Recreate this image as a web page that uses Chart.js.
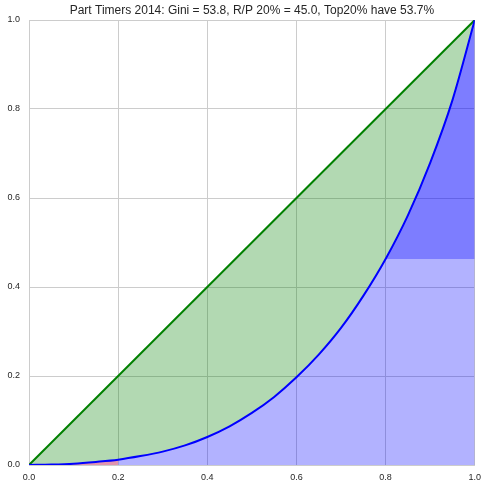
<!DOCTYPE html>
<html>
<head>
<meta charset="utf-8">
<script src="https://cdn.jsdelivr.net/npm/chart.js@4.4.1/dist/chart.umd.min.js"></script>
<style>
  html, body { margin: 0; padding: 0; background: #fff; }
  #wrap { width: 488px; height: 489px; }
</style>
</head>
<body>
<div id="wrap"><canvas id="lorenz"></canvas></div>
<script>
  // cumulative population share and income share
  const popShare = [0, 0.05, 0.1, 0.15, 0.2, 0.25, 0.3, 0.35, 0.4, 0.45, 0.5, 0.55, 0.6, 0.65, 0.7, 0.75, 0.8, 0.85, 0.9, 0.95, 1.0];
  const incomeShare = [0, 0.001, 0.003, 0.007, 0.012, 0.02, 0.03, 0.044, 0.063, 0.087, 0.117, 0.153, 0.197, 0.248, 0.308, 0.38, 0.463, 0.561, 0.679, 0.82, 1.0];
  const equalityX = [0, 1];
  const equalityY = [0, 1];
  const tickValues = [0, 0.2, 0.4, 0.6, 0.8, 1.0];
  const bottomCut = 0.2;   // bottom 20%
  const topCut = 0.8;      // top 20% starts here
  const topLevel = 0.463;  // income share held below the top 20%
  const chartTitle = 'Part Timers 2014: Gini = 53.8, R/P 20% = 45.0, Top20% have 53.7%';

  const pts = (xs, ys) => xs.map((x, i) => ({ x: x, y: ys[i] }));
  const curve = pts(popShare, incomeShare);
  const lowPart = curve.filter(p => p.x <= bottomCut);
  const restPart = curve.filter(p => p.x >= bottomCut);
  const topPart = curve.filter(p => p.x >= topCut);

  const gridColor = '#cccccc';
  const textColor = '#262626';
  const fontFamily = 'Liberation Sans, Arial, sans-serif';
  const tickFont = { family: fontFamily, size: 9 };

  // title centred over the plot area, like matplotlib does
  const plotTitle = {
    id: 'plotTitle',
    afterDraw(chart) {
      const { ctx, chartArea } = chart;
      ctx.save();
      ctx.fillStyle = textColor;
      ctx.font = '12px ' + fontFamily;
      ctx.textAlign = 'center';
      ctx.textBaseline = 'middle';
      ctx.fillText(chartTitle, (chartArea.left + chartArea.right) / 2, 11);
      ctx.restore();
    },
  };

  const areaSet = (data, fill, color) => ({
    data: data,
    showLine: true,
    borderWidth: 0,
    borderColor: 'rgba(0,0,0,0)',
    pointRadius: 0,
    cubicInterpolationMode: 'monotone',
    fill: fill,
    backgroundColor: color,
  });

  new Chart(document.getElementById('lorenz'), {
    type: 'scatter',
    data: {
      datasets: [
        {
          // Lorenz curve
          data: curve,
          showLine: true,
          borderColor: '#0000ff',
          borderWidth: 2,
          pointRadius: 0,
          cubicInterpolationMode: 'monotone',
          fill: false,
          order: 0,
        },
        {
          // line of equality, shaded down to the curve
          data: pts(equalityX, equalityY),
          showLine: true,
          borderColor: '#008000',
          borderWidth: 2,
          pointRadius: 0,
          fill: { target: 0 },
          backgroundColor: 'rgba(0, 128, 0, 0.3)',
          order: 1,
        },
        Object.assign(areaSet(topPart, { value: topLevel }, 'rgba(0, 0, 255, 0.3)'), { order: 2 }),
        Object.assign(areaSet(restPart, 'origin', 'rgba(0, 0, 255, 0.3)'), { order: 3 }),
        Object.assign(areaSet(lowPart, 'origin', 'rgba(200, 60, 110, 0.55)'), { order: 4 }),
      ],
    },
    options: {
      responsive: true,
      maintainAspectRatio: false,
      animation: false,
      events: [],
      layout: { padding: { left: 0, right: 13, top: 20, bottom: 0 } },
      plugins: {
        legend: { display: false },
        tooltip: { enabled: false },
        title: { display: false },
      },
      scales: {
        x: {
          type: 'linear',
          min: 0,
          max: 1,
          afterBuildTicks: s => { s.ticks = tickValues.map(v => ({ value: v })); },
          afterFit: s => { s.height = 24; },
          ticks: {
            color: textColor,
            font: tickFont,
            padding: 7,
            maxRotation: 0,
            callback: v => v.toFixed(1),
          },
          grid: { color: gridColor, drawTicks: false },
          border: { color: gridColor },
        },
        y: {
          type: 'linear',
          min: 0,
          max: 1,
          afterBuildTicks: s => { s.ticks = tickValues.map(v => ({ value: v })); },
          afterFit: s => { s.width = 29; },
          ticks: {
            color: textColor,
            font: tickFont,
            padding: 9,
            callback: v => v.toFixed(1),
          },
          grid: { color: gridColor, drawTicks: false },
          border: { color: gridColor },
        },
      },
    },
    plugins: [plotTitle],
  });
</script>
</body>
</html>
